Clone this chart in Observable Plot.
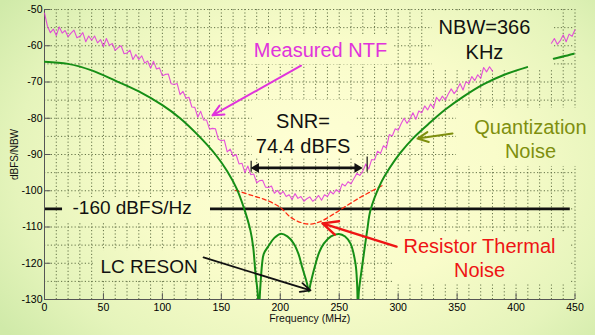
<!DOCTYPE html>
<html>
<head>
<meta charset="utf-8">
<script src="https://cdn.jsdelivr.net/npm/d3@7"></script>
<script src="https://cdn.jsdelivr.net/npm/@observablehq/plot@0.6"></script>
<style>
  html, body { margin: 0; padding: 0; background: #eef7c0; }
  #chart svg { display: block; }
</style>
</head>
<body>
<div id="chart"></div>
<script>
// ---- axes ----
const xTicks = [0, 50, 100, 150, 200, 250, 300, 350, 400, 450];
const yTicks = [-130, -120, -110, -100, -90, -80, -70, -60, -50];
const gridX = d3.range(0, 451, 10);
const gridY = d3.range(-130, -49, 5);

// ---- Quantization noise (green), MHz / dB ----
const qnFreqLow = [0, 20, 40, 60, 80, 100, 115, 130, 145, 155, 163, 169, 174.7, 177, 179, 180.8, 181.8, 182.8, 184.6, 186, 190.3, 195, 200.2, 206, 211.5, 215.5, 218.6, 222.8, 224.2, 225.6, 229.9, 233, 236.9, 243, 249.6, 255, 259.6, 263.8, 265.2, 265.9, 266.6, 269.8, 273.7, 276.5, 285, 293, 302, 313, 327, 340, 355, 372.6, 390, 409.4];
const qnDbLow = [-64.4, -65.0, -66.8, -69.6, -72.6, -76.4, -80.0, -84.6, -90.0, -94.6, -99.4, -104.6, -111, -115.5, -122.9, -128, -134, -128, -120.1, -117.4, -115.1, -113, -111.9, -112.6, -114.6, -117.5, -121.1, -125.7, -127.8, -125.7, -120.2, -117, -114.6, -112.6, -111.9, -112.6, -114.6, -120.1, -126, -134, -128, -120, -111, -105.4, -98.1, -93.6, -89.5, -85.4, -81.2, -77.6, -74.1, -70.6, -68, -65.9];
const qnFreqHigh = [432, 449, 450];
const qnDbHigh = [-63.6, -62.2, -62.1];

// ---- Measured NTF (magenta), sampled every 2.5 MHz ----
const ntfStep = 2.5;
const ntfLowStart = 0;
const ntfLowDb = [-51, -54.6, -56.4, -55.4, -57.2, -54.8, -56.5, -55.8, -57.5, -56.5,
  -55.7, -57.8, -57.4, -56.4, -58.9, -57.3, -58.5, -57.3, -59.2, -58.3,
  -60.2, -58.0, -59.9, -59.4, -61.3, -60.5, -60.0, -62.2, -62.0, -61.2,
  -63.8, -62.4, -63.8, -62.8, -64.8, -64.2, -66.2, -64.3, -66.4, -66.1,
  -68.3, -67.9, -67.8, -70.5, -70.7, -70.4, -73.5, -72.6, -74.5, -74.2,
  -76.9, -77.0, -79.7, -78.1, -80.5, -80.5, -83.0, -82.8, -82.9, -85.8,
  -86.2, -86.0, -89.3, -88.5, -90.5, -90.0, -92.6, -92.4, -95.0, -93.2,
  -95.6, -95.4, -97.8, -97.2, -97.1, -99.0, -99.1, -98.7, -100.7, -99.9,
  -101.0, -100.2, -101.6, -101.1, -102.4, -100.8, -102.1, -101.6, -102.9, -102.2,
  -101.7, -102.9, -102.3, -101.3, -102.6, -101.1, -101.6, -100.2, -100.9, -99.7,
  -100.4, -98.1, -98.7, -97.5, -98.1, -96.6, -95.2, -95.8, -94.6, -92.6,
  -94.0, -91.4, -91.5, -89.1, -89.7, -87.6, -88.2, -84.5, -84.9, -82.9,
  -83.3, -81.5, -80.0, -81.4, -80.2, -78.5, -80.3, -78.0, -78.5, -76.6,
  -77.7, -76.1, -77.2, -74.2, -75.3, -73.9, -75.0, -73.3, -71.9, -73.2,
  -72.1, -70.4, -72.2, -69.9, -70.4, -68.5, -69.6, -68.0, -69.0, -66.0,
  -67.2, -65.8, -67.0];
const ntfHighStart = 430;
const ntfHighDb = [-59.3, -58.0, -59.6, -58.6, -57.0, -58.9, -56.8, -57.4, -55.6];

// ---- Resistor thermal noise (red dashed) ----
const rtFreq = [162, 175, 189, 200, 208.7, 217, 225.6, 234, 245.4, 256, 268, 277, 286.4];
const rtDb = [-99.9, -101.2, -102.7, -104.6, -107.3, -108.7, -109.2, -108.5, -106.4, -104.2, -101.8, -100.2, -98.6];

// ---- -160 dBFS/Hz level ----
const floorDb = -105;
const floorFreq = [0, 446];

// ---- SNR bracket ----
const snrFreq = [175.3, 269.5];
const snrDb = -93.7;
const snrTickFreq = [175.3, 273.7];
const snrTickTop = [-91.85, -90.7];
const snrTickBottom = [-94.9, -94.9];

// ---- build tables ----
const qn = [
  ...qnFreqLow.map((f, i) => ({f, db: qnDbLow[i], seg: "a"})),
  ...qnFreqHigh.map((f, i) => ({f, db: qnDbHigh[i], seg: "b"}))
];
const ntf = [
  ...ntfLowDb.map((db, i) => ({f: ntfLowStart + i * ntfStep, db, seg: "a"})),
  ...ntfHighDb.map((db, i) => ({f: ntfHighStart + i * ntfStep, db, seg: "b"}))
];
const rt = rtFreq.map((f, i) => ({f, db: rtDb[i]}));
const snrTicks = snrTickFreq.map((f, i) => ({f, y1: snrTickTop[i], y2: snrTickBottom[i]}));

// label boxes (hide grid behind annotation text), in data coords
const boxes = [
  {x1: 173, x2: 295.2, y1: -57.45, y2: -65.2},   // Measured NTF
  {x1: 176.4, x2: 264.7, y1: -75.1, y2: -91.1},  // SNR
  {x1: 329.1, x2: 431.8, y1: -50.8, y2: -66.3},  // NBW
  {x1: 349.5, x2: 467, y1: -77.3, y2: -93.3},    // Quantization
  {x1: 15.3, x2: 140.8, y1: -101.9, y2: -108.5}, // -160 dBFS/Hz
  {x1: 295.2, x2: 446.2, y1: -111.8, y2: -125.9},// Resistor
  {x1: 42.4, x2: 137.4, y1: -116.5, y2: -124.5}  // LC RESON
];

const FONT = "'Liberation Sans', Arial, Helvetica, sans-serif";
const MAG = "#e033dc", GRN = "#168e16", RED = "#ee1414", OLV = "#7e8f0e", BLK = "#111";

const svg = Plot.plot({
  width: 595,
  height: 335,
  marginLeft: 44,
  marginRight: 20.5,
  marginTop: 9,
  marginBottom: 36,
  x: {domain: [0, 450]},
  y: {domain: [-130, -50]},
  style: {background: "none", fontFamily: FONT, fontSize: "10px", color: BLK, overflow: "visible"},
  marks: [
    // grid
    Plot.ruleX(gridX, {stroke: "#56663c", strokeWidth: 1, strokeDasharray: "1.2,2.2", strokeOpacity: 0.9}),
    Plot.ruleY(gridY, {stroke: "#56663c", strokeWidth: 1, strokeDasharray: "1.2,2.2", strokeOpacity: 0.9}),
    // -160 dBFS/Hz line
    Plot.ruleY([floorDb], {x1: floorFreq[0], x2: floorFreq[1], stroke: BLK, strokeWidth: 2.6}),
    // text boxes
    Plot.rect(boxes, {x1: "x1", x2: "x2", y1: "y1", y2: "y2", fill: "url(#bgGrad)"}),
    // axis lines and inward ticks
    Plot.ruleX([0], {stroke: "#555", strokeWidth: 1}),
    Plot.ruleY([-130], {stroke: "#555", strokeWidth: 1}),
    Plot.ruleY(yTicks, {x1: 0, x2: 5.5, stroke: "#555"}),
    Plot.ruleX(xTicks, {y1: -130, y2: -128.4, stroke: "#555"}),
    Plot.axisY({ticks: yTicks, tickSize: 0, tickPadding: 2, tickFormat: d => String(d), label: null, fontSize: 10.5, fill: "#000"}),
    Plot.axisX({ticks: xTicks, tickSize: 0, tickPadding: 4, tickFormat: d => String(d), label: null, fontSize: 10.5, fill: "#000"}),
    // curves
    Plot.line(rt, {x: "f", y: "db", stroke: "#ff2a10", strokeWidth: 1.3, strokeDasharray: "4,3", curve: "catmull-rom"}),
    Plot.line(qn, {x: "f", y: "db", z: "seg", stroke: GRN, strokeWidth: 2, curve: "catmull-rom", clip: true}),
    Plot.line(ntf, {x: "f", y: "db", z: "seg", stroke: MAG, strokeWidth: 1.1, strokeOpacity: 0.85}),
    // SNR bracket
    Plot.ruleY([snrDb], {x1: snrFreq[0] + 3, x2: snrFreq[1] - 3, stroke: BLK, strokeWidth: 2.6}),
    Plot.dot([snrFreq[0]], {x: d => d, y: () => snrDb, symbol: "triangle", r: 3.6, fill: BLK, stroke: null, rotate: -90, dx: 5}),
    Plot.dot([snrFreq[1]], {x: d => d, y: () => snrDb, symbol: "triangle", r: 3.6, fill: BLK, stroke: null, rotate: 90, dx: -5}),
    Plot.ruleX(snrTicks, {x: "f", y1: "y1", y2: "y2", stroke: BLK, strokeWidth: 1.2}),
    // annotation arrows
    Plot.arrow([{x1: 217.6, y1: -65.5, x2: 142.5, y2: -79.2}], {x1: "x1", y1: "y1", x2: "x2", y2: "y2", stroke: MAG, strokeWidth: 2, headLength: 9, headAngle: 50}),
    Plot.arrow([{x1: 346.1, y1: -84.2, x2: 316.4, y2: -85.6}], {x1: "x1", y1: "y1", x2: "x2", y2: "y2", stroke: OLV, strokeWidth: 2, headLength: 9, headAngle: 50}),
    Plot.arrow([{x1: 298.6, y1: -115.4, x2: 235.8, y2: -109.0}], {x1: "x1", y1: "y1", x2: "x2", y2: "y2", stroke: RED, strokeWidth: 2.5, headLength: 10, headAngle: 50}),
    Plot.arrow([{x1: 134.9, y1: -118.4, x2: 225.6, y2: -127.5}], {x1: "x1", y1: "y1", x2: "x2", y2: "y2", stroke: BLK, strokeWidth: 1.8, headLength: 9, headAngle: 50}),
    // annotation texts (y = baseline of last line)
    Plot.text(["Measured NTF"], {x: 234.1, y: -63.16, lineAnchor: "bottom", textAnchor: "middle", fontSize: 20, fill: MAG}),
    Plot.text(["SNR=\n74.4 dBFS"], {x: 219.3, y: -89.45, lineAnchor: "bottom", lineHeight: 1.25, textAnchor: "middle", fontSize: 20, fill: BLK}),
    Plot.text(["NBW=366\nKHz"], {x: 373.2, y: -63.52, lineAnchor: "bottom", lineHeight: 1.25, textAnchor: "middle", fontSize: 20, fill: BLK}),
    Plot.text(["Quantization\nNoise"], {x: 412.2, y: -90.83, lineAnchor: "bottom", lineHeight: 1.2, textAnchor: "middle", fontSize: 20, fill: OLV}),
    Plot.text(["Resistor Thermal\nNoise"], {x: 369.0, y: -123.93, lineAnchor: "bottom", lineHeight: 1.2, textAnchor: "middle", fontSize: 20, fill: RED}),
    Plot.text(["-160 dBFS/Hz"], {x: 23.75, y: -106.41, lineAnchor: "bottom", textAnchor: "start", fontSize: 19, fill: BLK}),
    Plot.text(["LC RESON"], {x: 47.5, y: -122.74, lineAnchor: "bottom", textAnchor: "start", fontSize: 19, fill: BLK}),
    // axis titles
    Plot.text(["dBFS/NBW"], {frameAnchor: "left", dx: -30, rotate: -90, textAnchor: "middle", fontSize: 10, fill: BLK}),
    Plot.text(["Frequency (MHz)"], {frameAnchor: "bottom", dy: 22, lineAnchor: "bottom", textAnchor: "middle", fontSize: 10.5, fill: BLK})
  ]
});

// background gradient (also used by the label boxes)
const ns = "http://www.w3.org/2000/svg";
const defs = document.createElementNS(ns, "defs");
defs.innerHTML = `<radialGradient id="bgGrad" gradientUnits="userSpaceOnUse" cx="320" cy="165" r="340"
  gradientTransform="translate(320,165) scale(1.15,0.82) translate(-320,-165)">
  <stop offset="0" stop-color="#ffffd6"/>
  <stop offset="0.45" stop-color="#f9fcca"/>
  <stop offset="0.78" stop-color="#e5f4bb"/>
  <stop offset="1" stop-color="#d0eaa9"/>
</radialGradient>`;
const bg = document.createElementNS(ns, "rect");
bg.setAttribute("width", 595);
bg.setAttribute("height", 335);
bg.setAttribute("fill", "url(#bgGrad)");
svg.insertBefore(bg, svg.firstChild);
svg.insertBefore(defs, svg.firstChild);

document.getElementById("chart").appendChild(svg);
</script>
</body>
</html>
